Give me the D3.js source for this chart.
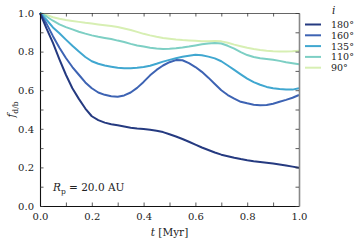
<!DOCTYPE html>
<html>
<head>
<meta charset="utf-8">
<script src="https://cdn.jsdelivr.net/npm/d3@7"></script>
<style>
  body { margin: 0; background: #fff; }
</style>
</head>
<body>
<div id="chart"></div>
<script>
// time grid [Myr]
const T = [0, 0.025, 0.05, 0.075, 0.1, 0.125, 0.15, 0.175, 0.2, 0.225, 0.25, 0.275, 0.3, 0.325, 0.35,
  0.375, 0.4, 0.425, 0.45, 0.475, 0.5, 0.525, 0.55, 0.575, 0.6, 0.625, 0.65, 0.675, 0.7, 0.725, 0.75,
  0.775, 0.8, 0.825, 0.85, 0.875, 0.9, 0.925, 0.95, 0.975, 1.0];

const incl = ['180°', '160°', '135°', '110°', '90°'];
const colors = ['#253a80', '#3d63b3', '#40a7d0', '#7dcfc4', '#d7efb3'];

const f180 = [1.0, 0.92, 0.845, 0.76, 0.68, 0.61, 0.555, 0.505, 0.465, 0.445, 0.432, 0.424, 0.418, 0.412,
  0.406, 0.402, 0.399, 0.395, 0.39, 0.383, 0.372, 0.36, 0.347, 0.333, 0.318, 0.303, 0.29, 0.277, 0.266,
  0.258, 0.25, 0.243, 0.237, 0.232, 0.228, 0.224, 0.22, 0.215, 0.21, 0.204, 0.198];
const f160 = [1.0, 0.945, 0.88, 0.82, 0.767, 0.72, 0.68, 0.64, 0.61, 0.588, 0.576, 0.569, 0.566, 0.573,
  0.588, 0.612, 0.643, 0.677, 0.705, 0.728, 0.745, 0.756, 0.755, 0.74, 0.72, 0.695, 0.665, 0.632, 0.6,
  0.575, 0.556, 0.54, 0.532, 0.525, 0.522, 0.523, 0.53, 0.54, 0.55, 0.561, 0.575];
const f135 = [1.0, 0.965, 0.925, 0.895, 0.862, 0.83, 0.8, 0.772, 0.75, 0.737, 0.728, 0.722, 0.716, 0.714,
  0.714, 0.716, 0.72, 0.727, 0.737, 0.748, 0.757, 0.766, 0.773, 0.779, 0.784, 0.781, 0.774, 0.765, 0.75,
  0.728, 0.705, 0.682, 0.66, 0.642, 0.628, 0.617, 0.61, 0.606, 0.603, 0.603, 0.61];
const f110 = [1.0, 0.982, 0.96, 0.941, 0.927, 0.915, 0.903, 0.893, 0.884, 0.877, 0.871, 0.865, 0.857, 0.85,
  0.84, 0.832, 0.826, 0.82, 0.816, 0.814, 0.815, 0.817, 0.821, 0.826, 0.832, 0.838, 0.842, 0.845, 0.842,
  0.83, 0.815, 0.797, 0.782, 0.772, 0.766, 0.762, 0.758, 0.752, 0.745, 0.74, 0.735];
const f90 = [1.0, 0.99, 0.978, 0.97, 0.964, 0.959, 0.954, 0.949, 0.945, 0.941, 0.937, 0.933, 0.927, 0.92,
  0.912, 0.902, 0.892, 0.884, 0.877, 0.871, 0.867, 0.863, 0.86, 0.858, 0.856, 0.854, 0.853, 0.855, 0.853,
  0.846, 0.836, 0.828, 0.82, 0.813, 0.808, 0.804, 0.802, 0.801, 0.801, 0.802, 0.805];
const series = [f180, f160, f135, f110, f90];

const xTicks = [0, 0.2, 0.4, 0.6, 0.8, 1.0];
const yTicks = [0, 0.2, 0.4, 0.6, 0.8, 1.0];
const minorTicks = [0.1, 0.3, 0.5, 0.7, 0.9];

const FONT = "'DejaVu Serif', 'Liberation Serif', serif";
const W = 360, H = 240;
const m = { l: 40, r: 61, t: 13, b: 34 };
const x = d3.scaleLinear().domain([0, 1]).range([m.l, W - m.r]);
const y = d3.scaleLinear().domain([0, 1]).range([H - m.b, m.t]);

const svg = d3.select('#chart').append('svg').attr('width', W).attr('height', H)
  .style('font-family', FONT);

// curves, 90° drawn first so 180° sits on top
const line = d3.line().x((d, i) => x(T[i])).y(d => y(d));
series.slice().reverse().forEach((s, k) => {
  const i = series.length - 1 - k;
  svg.append('path').datum(s).attr('d', line).attr('fill', 'none')
    .attr('stroke', colors[i]).attr('stroke-width', 2).attr('stroke-linejoin', 'round');
});

// axes (ticks inward, mirrored)
const fmt = d3.format('.1f');
const allT = xTicks.concat(minorTicks);
const styleAx = (g, col, sw) => {
  g.attr('font-family', null);
  g.select('.domain').attr('stroke', col).attr('stroke-width', sw);
  g.selectAll('.tick line').attr('stroke', '#333').attr('stroke-width', 0.8);
  g.selectAll('.tick text').attr('fill', '#222').style('font-size', '10px').style('font-family', FONT);
};
svg.append('g').attr('transform', `translate(0,${y(0)})`)
  .call(d3.axisBottom(x).tickValues(allT).tickSizeInner(-3.5).tickSizeOuter(0)
    .tickPadding(7).tickFormat(d => xTicks.includes(d) ? fmt(d) : ''))
  .call(g => styleAx(g, '#111', 1.1));
svg.append('g').attr('transform', `translate(0,${y(1)})`)
  .call(d3.axisTop(x).tickValues(allT).tickSizeInner(-3.5).tickSizeOuter(0).tickFormat(''))
  .call(g => styleAx(g, '#555', 0.9));
svg.append('g').attr('transform', `translate(${x(0)},0)`)
  .call(d3.axisLeft(y).tickValues(yTicks.concat(minorTicks)).tickSizeInner(-3.5).tickSizeOuter(0)
    .tickPadding(6).tickFormat(d => yTicks.includes(d) ? fmt(d) : ''))
  .call(g => styleAx(g, '#111', 1.1));
svg.append('g').attr('transform', `translate(${x(1)},0)`)
  .call(d3.axisRight(y).tickValues(yTicks.concat(minorTicks)).tickSizeInner(-3.5).tickSizeOuter(0).tickFormat(''))
  .call(g => styleAx(g, '#888', 1.6));

const txt = (sel) => sel.style('font-family', FONT).attr('fill', '#222');

// axis labels
const xl = svg.append('text').attr('x', (x(0) + x(1)) / 2).attr('y', 236)
  .attr('text-anchor', 'middle').style('font-size', '10.5px').call(txt);
xl.append('tspan').attr('font-style', 'italic').text('t');
xl.append('tspan').text(' [Myr]');

const yl = svg.append('text').attr('transform', `translate(15,${(y(0) + y(1)) / 2}) rotate(-90)`)
  .attr('text-anchor', 'middle').style('font-size', '10.5px').call(txt);
yl.append('tspan').attr('font-style', 'italic').text('f');
yl.append('tspan').style('font-size', '7.5px').attr('dy', 3).text('d/b');

// annotation
const an = svg.append('text').attr('x', 53).attr('y', 191).style('font-size', '10.5px').call(txt);
an.append('tspan').attr('font-style', 'italic').text('R');
an.append('tspan').style('font-size', '7.5px').attr('dy', 2.5).text('p');
an.append('tspan').attr('dy', -2.5).text(' = 20.0 AU');

// legend
svg.append('text').attr('x', 332).attr('y', 14).style('font-size', '10.5px').attr('font-style', 'italic')
  .call(txt).text('i');
incl.forEach((lbl, i) => {
  const ly = 24.5 + i * 10.8;
  svg.append('line').attr('x1', 305).attr('x2', 321).attr('y1', ly).attr('y2', ly)
    .attr('stroke', colors[i]).attr('stroke-width', 2);
  svg.append('text').attr('x', 331).attr('y', ly + 3.5).style('font-size', '9.5px').call(txt).text(lbl);
});
</script>
</body>
</html>
